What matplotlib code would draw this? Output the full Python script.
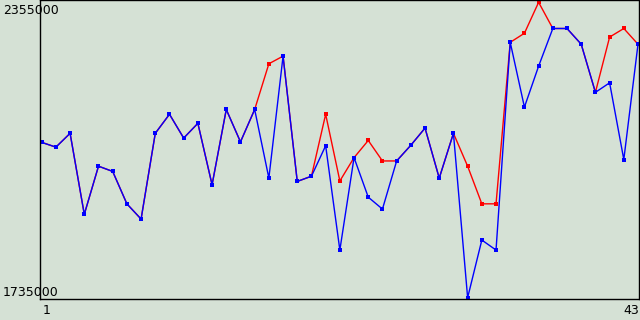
import matplotlib
matplotlib.use("Agg")
import matplotlib.pyplot as plt

# x positions 1..43
points = list(range(1, 44))

blue_values = [
    2061000, 2051000, 2080000, 1910000, 2011000, 2000000, 1932000, 1900000,
    2080000, 2120000, 2070000, 2101000, 1972000, 2130000, 2062000, 2130000,
    1986000, 2242000, 1979000, 1990000, 2054000, 1835000, 2029000, 1946000,
    1921000, 2022000, 2055000, 2091000, 1986000, 2080000, 1735000, 1856000,
    1835000, 2271000, 2135000, 2221000, 2300000, 2300000, 2267000, 2166000,
    2186000, 2025000, 2267000,
]

red_values = [
    2061000, 2051000, 2080000, 1910000, 2011000, 2000000, 1932000, 1900000,
    2080000, 2120000, 2070000, 2101000, 1972000, 2130000, 2062000, 2130000,
    2226000, 2242000, 1979000, 1990000, 2120000, 1980000, 2029000, 2065000,
    2022000, 2022000, 2055000, 2091000, 1986000, 2080000, 2011000, 1932000,
    1932000, 2271000, 2290000, 2355000, 2300000, 2300000, 2267000, 2166000,
    2282000, 2300000, 2267000,
]

y_min_label = "1735000"
y_max_label = "2355000"
x_first_label = "1"
x_last_label = "43"

bg = '#d5e1d5'
W, H = 640, 320

fig = plt.figure(figsize=(6.4, 3.2), dpi=100, facecolor=bg)
ax = fig.add_axes([40 / W, (H - 299) / H, 599 / W, 299 / H])
ax.set_facecolor(bg)

ax.plot(points, red_values, color='#ff0000', linewidth=1, marker='s', markersize=2.5,
        markeredgewidth=0)
ax.plot(points, blue_values, color='#0000ff', linewidth=1, marker='s', markersize=2.5,
        markeredgewidth=0)

ax.set_xlim(0.88, 43.07)
ax.set_ylim(1732270, 2359800)
ax.set_xticks([])
ax.set_yticks([])
for s in ax.spines.values():
    s.set_color('black')
    s.set_linewidth(1)

# axis labels drawn as plain text, like the original
fs = 9
fig.text(3 / W, 1 - 10 / H, y_max_label, fontsize=fs, ha='left', va='center', zorder=5)
fig.text(3 / W, 1 - 292 / H, y_min_label, fontsize=fs, ha='left', va='center', zorder=5)
fig.text(47 / W, 1 - 311 / H, x_first_label, fontsize=fs, ha='center', va='center')
fig.text(639 / W, 1 - 311 / H, x_last_label, fontsize=fs, ha='right', va='center')

fig.savefig("out.png", dpi=100, facecolor=bg)
